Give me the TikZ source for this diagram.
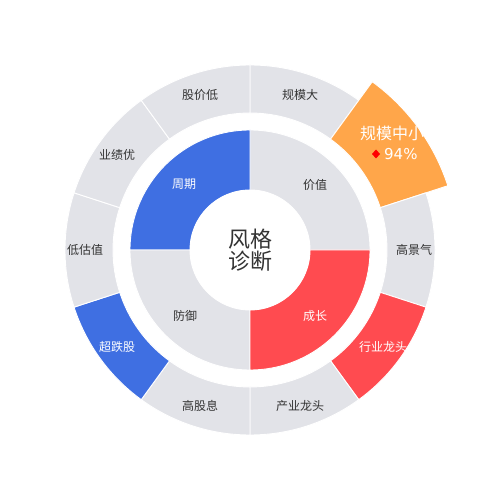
\documentclass[tikz,border=0pt]{standalone}
\usepackage{fontspec}
\usetikzlibrary{calc}
\newfontfamily\cjk{Noto Sans CJK SC}
\newfontfamily\dejavufont{DejaVu Sans}
\definecolor{segGray}{HTML}{E2E3E8}
\definecolor{segBlue}{HTML}{3F6FE2}
\definecolor{segRed}{HTML}{FF4B50}
\definecolor{segOrange}{HTML}{FFA64A}
\definecolor{txtDark}{HTML}{333333}
\tikzset{
  seg/.style={draw=white, line width=0.9pt, line join=miter},
  lbl/.style={font=\cjk\fontsize{12}{14}\selectfont, text=txtDark, inner sep=0pt},
  lblw/.style={font=\cjk\fontsize{12}{14}\selectfont, text=white, inner sep=0pt},
}
\newcommand{\mysector}[5]{% color, a1, a2, r1, r2
  \path[seg, fill=#1] (250,250) ++(#2:#5) arc[start angle=#2, end angle=#3, radius=#5]
    -- ($(250,250)+(#3:#4)$) arc[start angle=#3, end angle=#2, radius=#4] -- cycle;}
\begin{document}
\begin{tikzpicture}[x=1pt,y=1pt]
\useasboundingbox (0,0) rectangle (500,500);
\fill[white] (0,0) rectangle (500,500);
% inner ring
\mysector{segGray}{0}{90}{60}{120}
\mysector{segBlue}{90}{180}{60}{120}
\mysector{segGray}{180}{270}{60}{120}
\mysector{segRed}{270}{360}{60}{120}
% outer ring
\mysector{segGray}{54}{90}{137}{185}
\mysector{segOrange}{18}{54}{137}{208}
\mysector{segGray}{-18}{18}{137}{185}
\mysector{segRed}{-54}{-18}{137}{185}
\mysector{segGray}{-90}{-54}{137}{185}
\mysector{segGray}{-126}{-90}{137}{185}
\mysector{segBlue}{-162}{-126}{137}{185}
\mysector{segGray}{162}{198}{137}{185}
\mysector{segGray}{126}{162}{137}{185}
\mysector{segGray}{90}{126}{137}{185}
% center
\fill[white] (250,250) circle[radius=60];
\node[font=\cjk\fontsize{22}{24}\selectfont, text=txtDark, align=center, inner sep=0pt] (center) at (250,250) {风格\\[-2pt]诊断};
% inner labels
\node[lbl]  (jiazhi) at (315,315) {价值};
\node[lblw] (zhouqi) at (184,316) {周期};
\node[lbl]  (fangyu) at (185,184) {防御};
\node[lblw] (chengzhang) at (315,184) {成长};
% outer labels
\node[lbl]  (gmd) at (300,405) {规模大};
\node[lbl]  (gjq) at (414,250) {高景气};
\node[lblw] (hylt) at (383,153) {行业龙头};
\node[lbl]  (cylt) at (300,94) {产业龙头};
\node[lbl]  (ggx) at (200,94) {高股息};
\node[lblw] (cdg) at (117,153) {超跌股};
\node[lbl]  (gzz) at (85,250) {低估值};
\node[lbl]  (yjy) at (117,345) {业绩优};
\node[lbl]  (gjd) at (200,405) {股价低};
% highlighted
\node[font=\cjk\fontsize{16}{18}\selectfont, text=white, inner sep=0pt] (gmzx) at (392,367) {规模中小};
\node[font=\dejavufont\fontsize{15}{17}\selectfont, text=white, inner sep=0pt, anchor=west] (pct) at (384,346) {94\%};
\fill[red] (376,350.5) -- (380,346) -- (376,341.5) -- (372,346) -- cycle;
\end{tikzpicture}
\end{document}
